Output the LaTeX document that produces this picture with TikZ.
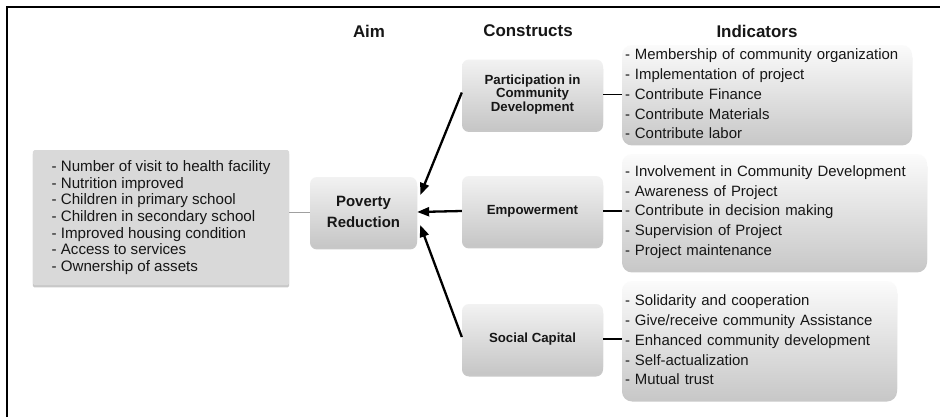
\documentclass[tikz,border=0pt]{standalone}
\usepackage{fontspec}
\setmainfont{Liberation Sans}
\usetikzlibrary{arrows.meta,positioning,calc,shadows}
\definecolor{ink}{HTML}{161616}
\definecolor{aimgray}{HTML}{D9D9D9}
\definecolor{contop}{HTML}{F2F2F2}
\definecolor{conbot}{HTML}{C6C6C6}
\definecolor{indtop}{HTML}{FBFBFB}
\definecolor{indbot}{HTML}{C8C8C8}
\definecolor{linkgray}{HTML}{A0A0A0}
\tikzset{
  >={Triangle[length=12pt,width=9pt]},
  every node/.style={text=ink},
  head/.style={font=\fontsize{17}{20}\selectfont\bfseries},
  box/.style={draw=none,drop shadow={shadow xshift=0pt,shadow yshift=-2.5pt,opacity=.3,fill=black!70}},
  aimlist/.style={box,fill=aimgray,rounded corners=1.5bp,align=left,minimum width=256bp,minimum height=135bp,font=\fontsize{15.2}{16.7}\selectfont},
  aimbox/.style={box,rounded corners=7bp,top color=contop,bottom color=conbot,align=center,minimum width=107bp,minimum height=70bp,font=\fontsize{15}{21}\selectfont\bfseries},
  conbox/.style={box,rounded corners=7bp,top color=contop,bottom color=conbot,align=center,minimum width=141bp,minimum height=70bp,font=\fontsize{13.3}{13.8}\selectfont\bfseries},
  indbox/.style={box,rounded corners=10bp,top color=indtop,bottom color=indbot,align=left,inner xsep=3bp,font=\fontsize{15}{19.8}\selectfont},
  arr/.style={->,line width=2.3bp,draw=black},
  link/.style={line width=1.4bp,draw=black},
  thin/.style={line width=0.8bp,draw=linkgray}
}
\begin{document}
\begin{tikzpicture}[x=1bp,y=-1bp]
  \useasboundingbox (0,0) rectangle (940,417);
  \fill[white] (0,0) rectangle (940,417);
  \draw[line width=2bp] (7,417) -- (7,6.5) -- (940,6.5);

  \node[head] (hAim) at (369,31) {Aim};
  \node[head] (hCon) at (528,31) {Constructs};
  \node[head] (hInd) at (757,31) {Indicators};

  \node[aimlist] (outcomes) at (161,217.5) {- Number of visit to health facility\\- Nutrition improved\\- Children in primary school\\- Children in secondary school\\- Improved housing condition\\- Access to services\\- Ownership of assets};
  \node[aimbox] (pov) at (363.5,212) {Poverty\\Reduction};

  \node[conbox] (part) at (532.5,94.5) {Participation in\\Community\\Development};
  \node[conbox] (emp) at (532.5,211) {Empowerment};
  \node[conbox] (soc) at (532.5,339) {Social Capital};

  \node[indbox,text width=284bp,minimum height=98bp] (indPart) at (767,94) {- Membership of community organization\\- Implementation of project\\- Contribute Finance\\- Contribute Materials\\- Contribute labor};
  \node[indbox,text width=299bp,minimum height=116bp] (indEmp) at (774.5,212) {- Involvement in Community Development\\- Awareness of Project\\- Contribute in decision making\\- Supervision of Project\\- Project maintenance};
  \node[indbox,text width=269bp,minimum height=118bp] (indSoc) at (759.5,340) {- Solidarity and cooperation\\- Give/receive community Assistance\\- Enhanced community development\\- Self-actualization\\- Mutual trust};

  \draw[thin] (outcomes.east |- pov.west) -- (pov.west);
  \draw[link] (part.east) -- (part.east -| indPart.west);
  \draw[link] (emp.east) -- (emp.east -| indEmp.west);
  \draw[link] (soc.east) -- (soc.east -| indSoc.west);

  \draw[arr] ($(part.west)+(0,-2)$) -- ($(pov.east)+(3,-17)$);
  \draw[arr] (emp.west) -- (pov.east);
  \draw[arr] ($(soc.west)+(0,-2)$) -- ($(pov.east)+(3,13)$);
\end{tikzpicture}
\end{document}
